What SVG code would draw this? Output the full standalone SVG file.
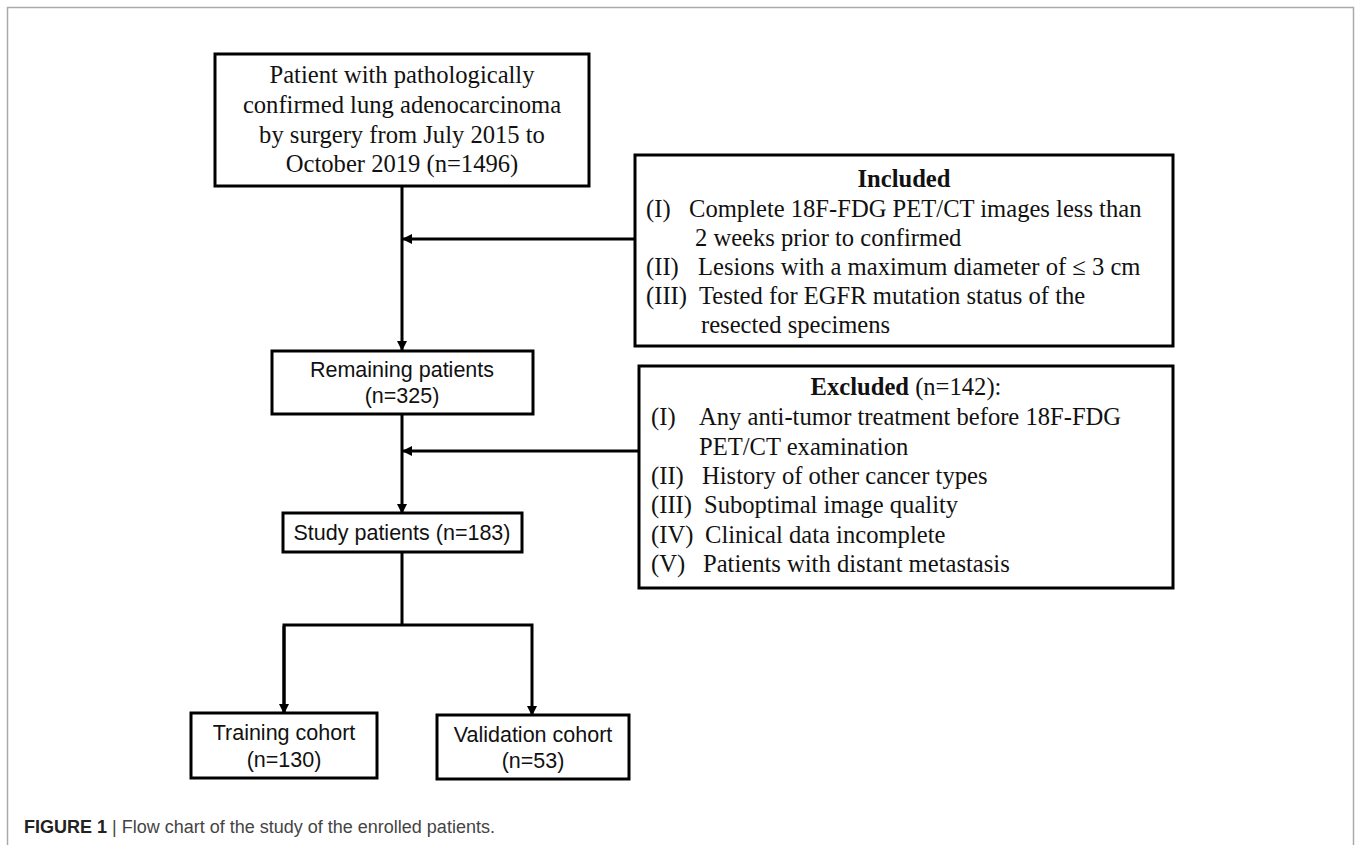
<svg xmlns="http://www.w3.org/2000/svg" width="1355" height="845" viewBox="0 0 1355 845">
<defs>
<marker id="ah" markerWidth="10" markerHeight="10" refX="9" refY="5" orient="auto" markerUnits="userSpaceOnUse">
<path d="M0,0 L10,5 L0,10 Z" fill="#000"/>
</marker>
<style>
.box{fill:#fff;stroke:#000;stroke-width:3}
.ln{fill:none;stroke:#000;stroke-width:3}
.serif{font-family:"Liberation Serif","Times New Roman",serif;font-size:24.6px;fill:#111}
.sans{font-family:"Liberation Sans",Arial,sans-serif;font-size:21.5px;fill:#111}
.mid{text-anchor:middle}
.cap{font-family:"Liberation Sans",Arial,sans-serif;font-size:18px;fill:#444}
</style>
</defs>
<rect width="1355" height="845" fill="#fff"/>
<path d="M7.5,845 V7.5 H1353.5 V845" fill="none" stroke="#aaa" stroke-width="1.5"/>

<g id="connectors">
<line class="ln" x1="402" y1="186" x2="402" y2="350" marker-end="url(#ah)"/>
<line class="ln" x1="635" y1="239" x2="403" y2="239" marker-end="url(#ah)"/>
<line class="ln" x1="402" y1="414" x2="402" y2="513" marker-end="url(#ah)"/>
<line class="ln" x1="639" y1="451" x2="403" y2="451" marker-end="url(#ah)"/>
<polyline class="ln" points="402,552 402,625"/>
<polyline class="ln" points="284,713 284,625 532,625 532,715" marker-end="url(#ah)"/>
<line class="ln" x1="284" y1="626" x2="284" y2="713" marker-end="url(#ah)"/>
</g>

<g id="node-start">
<rect class="box" x="215" y="54" width="374" height="132"/>
<text class="serif mid" x="402" y="83">Patient with pathologically</text>
<text class="serif mid" x="402" y="113">confirmed lung adenocarcinoma</text>
<text class="serif mid" x="402" y="143">by surgery from July 2015 to</text>
<text class="serif mid" x="402" y="172">October 2019 (n=1496)</text>
</g>

<g id="node-included">
<rect class="box" x="635" y="155" width="538" height="191"/>
<text class="serif mid" x="904" y="187" font-weight="bold">Included</text>
<text class="serif" x="646" y="217">(I)</text>
<text class="serif" x="689" y="217">Complete 18F-FDG PET/CT images less than</text>
<text class="serif" x="695" y="246">2 weeks prior to confirmed</text>
<text class="serif" x="646" y="275">(II)</text>
<text class="serif" x="698" y="275">Lesions with a maximum diameter of ≤ 3 cm</text>
<text class="serif" x="646" y="304">(III)</text>
<text class="serif" x="699" y="304">Tested for EGFR mutation status of the</text>
<text class="serif" x="701" y="333">resected specimens</text>
</g>

<g id="node-remaining">
<rect class="box" x="272" y="351" width="261" height="63"/>
<text class="sans mid" x="402" y="377">Remaining patients</text>
<text class="sans mid" x="402" y="403">(n=325)</text>
</g>

<g id="node-excluded">
<rect class="box" x="639" y="366" width="534" height="222"/>
<text class="serif mid" x="906" y="395"><tspan font-weight="bold">Excluded</tspan> (n=142):</text>
<text class="serif" x="651" y="425">(I)</text>
<text class="serif" x="699" y="425">Any anti-tumor treatment before 18F-FDG</text>
<text class="serif" x="699" y="455">PET/CT examination</text>
<text class="serif" x="651" y="484">(II)</text>
<text class="serif" x="702" y="484">History of other cancer types</text>
<text class="serif" x="651" y="513">(III)</text>
<text class="serif" x="704" y="513">Suboptimal image quality</text>
<text class="serif" x="651" y="543">(IV)</text>
<text class="serif" x="705" y="543">Clinical data incomplete</text>
<text class="serif" x="651" y="572">(V)</text>
<text class="serif" x="703" y="572">Patients with distant metastasis</text>
</g>

<g id="node-study">
<rect class="box" x="283" y="513" width="239" height="39"/>
<text class="sans mid" x="402" y="540">Study patients (n=183)</text>
</g>

<g id="node-training">
<rect class="box" x="191" y="713" width="186" height="65"/>
<text class="sans mid" x="284" y="740">Training cohort</text>
<text class="sans mid" x="284" y="767">(n=130)</text>
</g>

<g id="node-validation">
<rect class="box" x="437" y="715" width="192" height="64"/>
<text class="sans mid" x="533" y="742">Validation cohort</text>
<text class="sans mid" x="533" y="768">(n=53)</text>
</g>

<text class="cap" x="24" y="833"><tspan font-weight="bold" fill="#222">FIGURE 1</tspan> | Flow chart of the study of the enrolled patients.</text>
</svg>
